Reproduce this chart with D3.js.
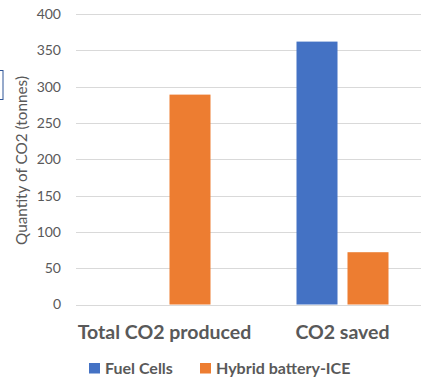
<!DOCTYPE html>
<html>
<head>
<meta charset="utf-8">
<script src="https://cdn.jsdelivr.net/npm/d3@7"></script>
<style>
  html, body { margin: 0; padding: 0; background: #fff; }
  svg { display: block; font-family: Lato, "Open Sans", sans-serif; }
</style>
</head>
<body>
<svg id="chart" width="421" height="380"></svg>
<script>
// Chart data
const categories = ["Total CO2 produced", "CO2 saved"];
const seriesNames = ["Fuel Cells", "Hybrid battery-ICE"];
const fuelCells = [0, 362];
const hybridBattery = [289, 72];
const yTicks = [0, 50, 100, 150, 200, 250, 300, 350, 400];
const colors = ["#4472C4", "#ED7D31"];

const svg = d3.select("#chart");
const textColor = "#595959";

// Plot area runs past the right edge of the canvas
const plot = { left: 75.5, right: 431.5, top: 14, bottom: 304.5 };

const x0 = d3.scaleBand().domain(categories).range([plot.left, plot.right]).paddingInner(0).paddingOuter(0);
const x1 = d3.scaleBand().domain(seriesNames).range([43, x0.bandwidth() - 43]).paddingInner(0.196).paddingOuter(0);
const y = d3.scaleLinear().domain([0, 400]).range([plot.bottom, plot.top]);

// Gridlines
svg.append("g")
  .selectAll("line")
  .data(yTicks)
  .join("line")
  .attr("x1", 76)
  .attr("x2", 421)
  .attr("y1", d => Math.round(y(d)) + 0.5)
  .attr("y2", d => Math.round(y(d)) + 0.5)
  .attr("stroke", "#D9D9D9")
  .attr("stroke-width", 1);

// Y axis tick labels
const yAxis = d3.axisLeft(y).tickValues(yTicks).tickSize(0).tickPadding(0);
const gy = svg.append("g").attr("transform", `translate(61,0)`).call(yAxis);
gy.select(".domain").remove();
gy.selectAll("text")
  .attr("fill", textColor)
  .style("font-size", "14px")
  .style("font-family", "Lato, sans-serif");

// Bars
const series = [fuelCells, hybridBattery];
const groups = svg.append("g")
  .selectAll("g")
  .data(categories)
  .join("g")
  .attr("transform", d => `translate(${x0(d)},0)`);

groups.selectAll("rect")
  .data((c, i) => seriesNames.map((s, j) => ({ s, v: series[j][i], c: colors[j] })))
  .join("rect")
  .attr("x", d => x1(d.s))
  .attr("width", x1.bandwidth())
  .attr("y", d => y(d.v))
  .attr("height", d => y(0) - y(d.v))
  .attr("fill", d => d.c);

// Category labels
const xAxis = d3.axisBottom(x0).tickSize(0).tickPadding(0);
const gx = svg.append("g").attr("transform", "translate(0,339)").call(xAxis);
gx.select(".domain").remove();
gx.selectAll("text")
  .attr("y", 0)
  .attr("dy", 0)
  .attr("fill", textColor)
  .style("font-size", "19.5px")
  .style("font-weight", "bold")
  .style("font-family", "Lato, sans-serif");

// Y axis title
svg.append("text")
  .attr("transform", "translate(26.5,160.5) rotate(-90)")
  .attr("text-anchor", "middle")
  .attr("fill", textColor)
  .style("font-size", "15.3px")
  .text("Quantity of CO2 (tonnes)");

// Legend
const legendX = [89, 200];
const legend = svg.append("g")
  .selectAll("g")
  .data(seriesNames)
  .join("g")
  .attr("transform", (d, i) => `translate(${legendX[i]},363)`);
legend.append("rect").attr("width", 11).attr("height", 10.5).attr("fill", (d, i) => colors[i]);
legend.append("text")
  .attr("x", 16)
  .attr("y", 11)
  .attr("fill", textColor)
  .style("font-size", "16px")
  .style("font-weight", "bold")
  .text(d => d);

// Partially visible selection frame at the left edge
svg.append("rect")
  .attr("x", -10)
  .attr("y", 70.5)
  .attr("width", 13)
  .attr("height", 29)
  .attr("fill", "none")
  .attr("stroke", "#2F5597")
  .attr("stroke-width", 1);
</script>
</body>
</html>
